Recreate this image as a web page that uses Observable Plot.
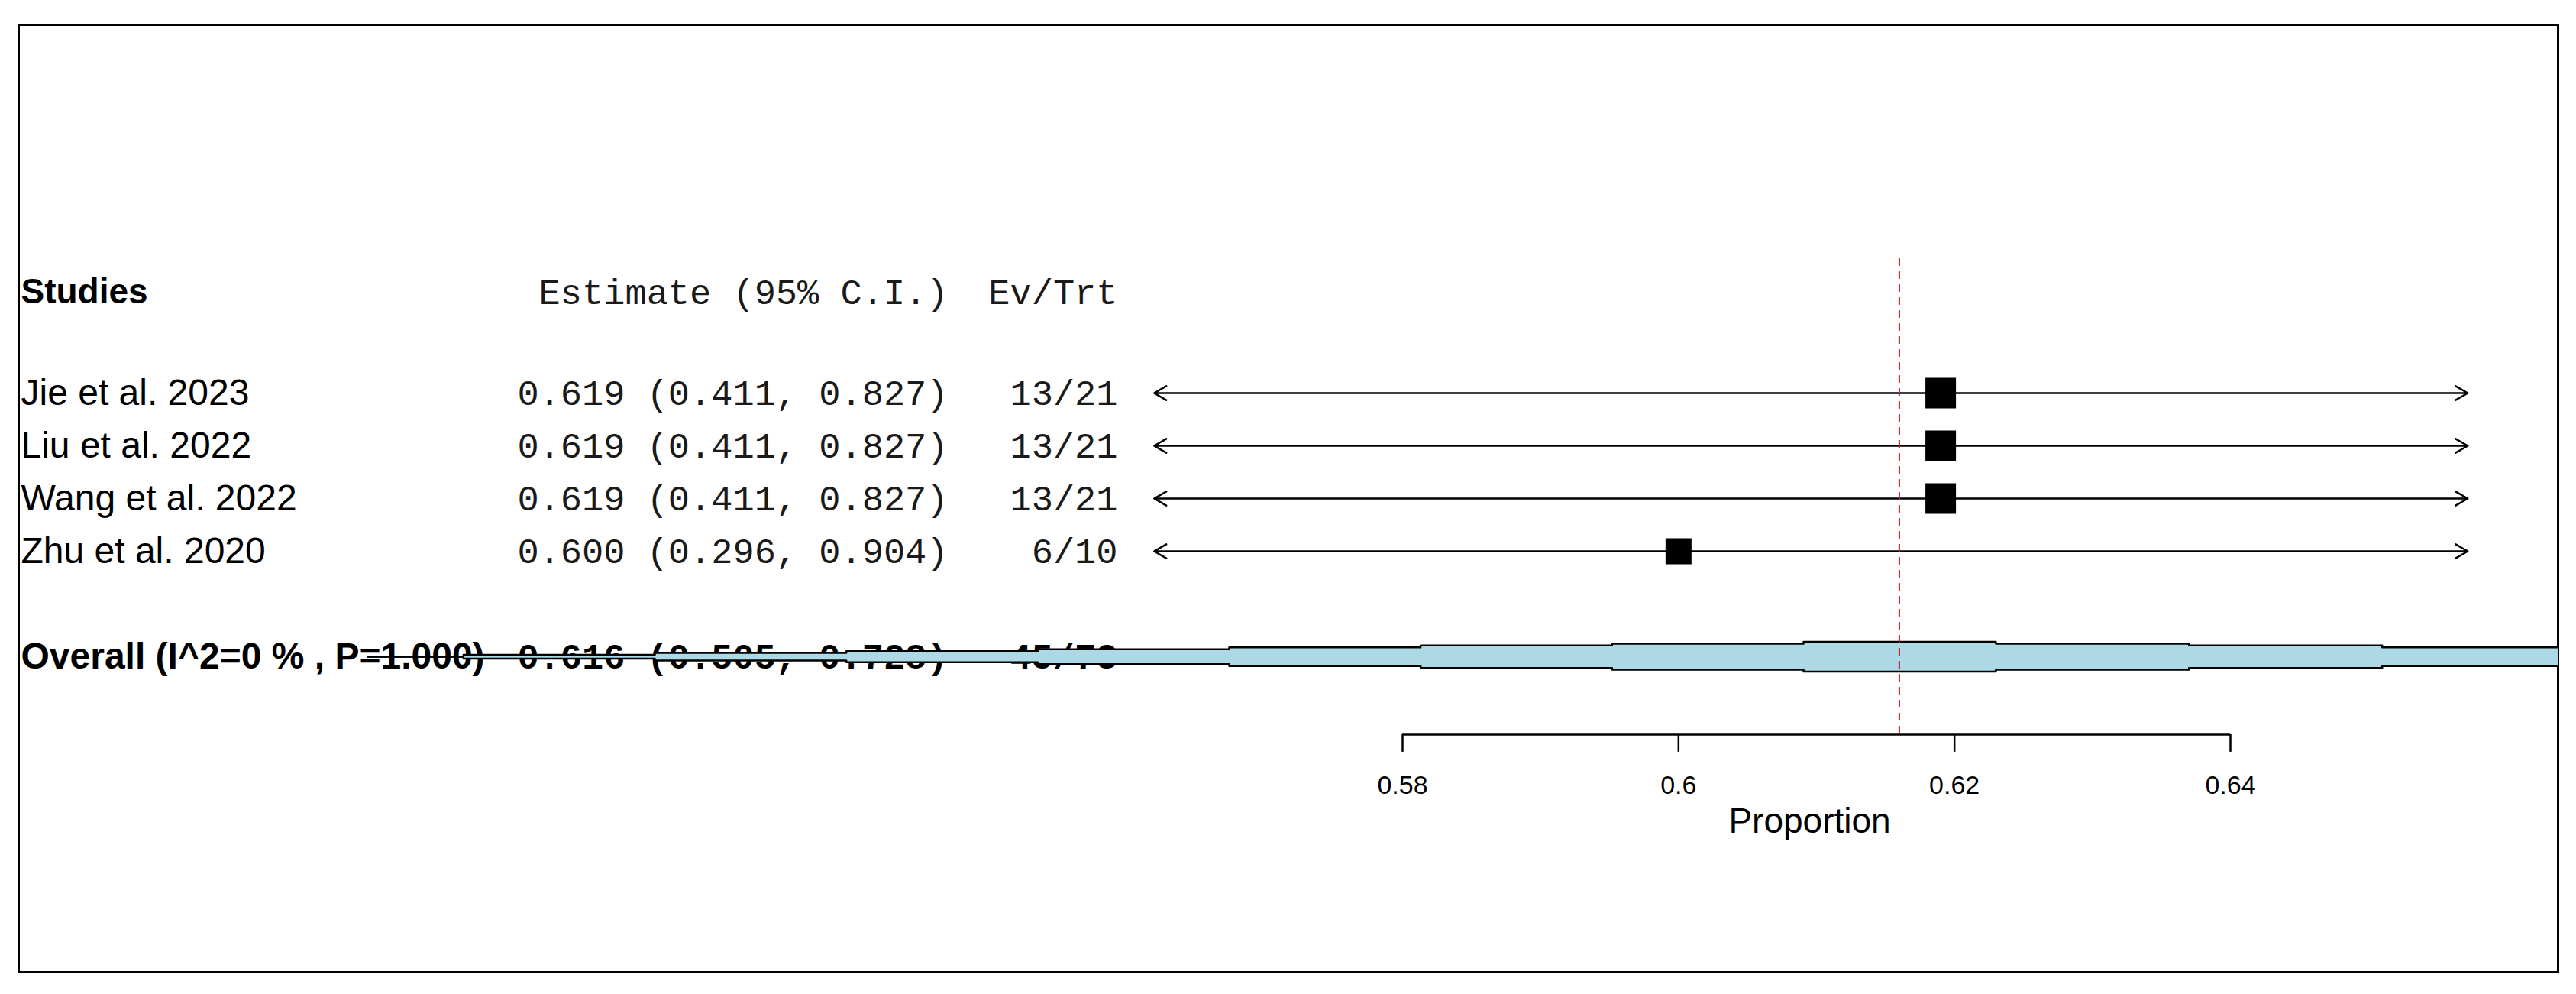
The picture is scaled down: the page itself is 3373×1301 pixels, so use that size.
<!DOCTYPE html>
<html>
<head>
<meta charset="utf-8">
<script src="https://cdn.jsdelivr.net/npm/d3@7"></script>
<script src="https://cdn.jsdelivr.net/npm/@observablehq/plot@0.6"></script>
<style>
html, body { margin: 0; padding: 0; background: #fff; }
#chart svg { display: block; }
</style>
</head>
<body>
<div id="chart"></div>
<script>
// ---- data ----
const studies   = ["Jie et al. 2023", "Liu et al. 2022", "Wang et al. 2022", "Zhu et al. 2020"];
const estimates = [0.619, 0.619, 0.619, 0.600];
const lowers    = [0.411, 0.411, 0.411, 0.296];
const uppers    = [0.827, 0.827, 0.827, 0.904];
const events    = [13, 13, 13, 6];
const totals    = [21, 21, 21, 10];

const overallLabel  = "Overall (I^2=0 % , P=1.000)";
const overallValues = [0.616, 0.505, 0.728]; // estimate, lower, upper

const headerLabels = ["Studies", "Estimate (95% C.I.)", "Ev/Trt"];
const xTicks = [0.58, 0.6, 0.62, 0.64];
const xTickLabels = ["0.58", "0.6", "0.62", "0.64"];
const xLabel = "Proportion";
const plotRange = [0.562, 0.6572]; // x limits of the plotting region (CI lines clipped with arrows)

// ---- layout (row units) ----
const headerRow = 0.09, firstStudyRow = 2, overallRow = 7;
const axisRow = 8.478, tickEndRow = 8.81, lineTopRow = -0.55;
const sans = "Liberation Sans, Arial, sans-serif";
const mono = "Liberation Mono, Courier New, monospace";

const fmt = d3.format(".3f");
const rows = studies.map((s, i) => ({
  label: s, est: estimates[i], lo: lowers[i], hi: uppers[i],
  ev: events[i], n: totals[i], row: firstStudyRow + i
}));
const ciText = d => `${fmt(d.est)} (${fmt(d.lo)}, ${fmt(d.hi)})`;
const evText = d => `${d.ev}/${d.n}`;

const [oEst, oLo, oHi] = overallValues;
const overall = [{label: overallLabel, est: oEst, lo: oLo, hi: oHi,
  ev: d3.sum(events), n: d3.sum(totals), row: overallRow}];

// square side (px) by sample size
const side = d3.scaleLinear([d3.min(totals), d3.max(totals)], [34, 40]);

// stepped summary diamond (as rendered in the reference)
const N = 8, H = 0.283;
const steps = [{x: oLo, k: 0}];
for (let k = 0; k < N; k++) steps.push({x: oLo + (k + 0.5) / N * (oEst - oLo), k: k + 1});
for (let k = N - 1; k >= 0; k--) steps.push({x: oEst + (N - k - 0.5) / N * (oHi - oEst), k});
steps.push({x: oHi, k: 0});
const diamondTop = d => overallRow - d.k / N * H;
const diamondBot = d => overallRow + d.k / N * H;

const clippedLo = rows.filter(d => d.lo < plotRange[0]);
const clippedHi = rows.filter(d => d.hi > plotRange[1]);
const inLo = rows.filter(d => d.lo >= plotRange[0]);
const inHi = rows.filter(d => d.hi <= plotRange[1]);

const monoColor = "#1a1a1a";

const chart = Plot.plot({
  width: 3373,
  height: 1301,
  marginLeft: 24, marginRight: 24, marginTop: 32, marginBottom: 29,
  style: {background: "white", fontFamily: sans, color: "black"},
  x: {domain: d3.extent(xTicks), range: [1836, 2920], axis: null},
  y: {domain: [0, overallRow], range: [376, 859], axis: null},
  r: {type: "identity"},
  marks: [
    Plot.frame({stroke: "black", strokeWidth: 3}),
    // header
    Plot.text([headerLabels[0]], {frameAnchor: "left", y: () => headerRow, dx: 3, text: d => d,
      textAnchor: "start", fontSize: 46, fontWeight: "bold", fontFamily: sans}),
    Plot.text([headerLabels[1]], {frameAnchor: "left", y: () => headerRow, dx: 1217, text: d => d,
      textAnchor: "end", fontSize: 47, fontFamily: mono, fill: monoColor}),
    Plot.text([headerLabels[2]], {frameAnchor: "left", y: () => headerRow, dx: 1439, text: d => d,
      textAnchor: "end", fontSize: 47, fontFamily: mono, fill: monoColor}),
    // study rows
    Plot.text(rows, {frameAnchor: "left", y: "row", dx: 3, text: "label",
      textAnchor: "start", fontSize: 48, fontFamily: sans}),
    Plot.text(rows, {frameAnchor: "left", y: "row", dx: 1217, text: ciText,
      textAnchor: "end", fontSize: 47, fontFamily: mono, fill: monoColor}),
    Plot.text(rows, {frameAnchor: "left", y: "row", dx: 1439, text: evText,
      textAnchor: "end", fontSize: 47, fontFamily: mono, fill: monoColor}),
    // overall row text (under the diamond)
    Plot.text(overall, {frameAnchor: "left", y: "row", dx: 3, text: "label",
      textAnchor: "start", fontSize: 48, fontWeight: "bold", fontFamily: sans}),
    Plot.text(overall, {frameAnchor: "left", y: "row", dx: 1217, text: ciText,
      textAnchor: "end", fontSize: 47, fontWeight: "bold", fontFamily: mono}),
    Plot.text(overall, {frameAnchor: "left", y: "row", dx: 1439, text: evText,
      textAnchor: "end", fontSize: 47, fontWeight: "bold", fontFamily: mono}),
    // CI lines (arrows where they leave the plotting range)
    Plot.arrow(clippedLo, {x1: "est", x2: () => plotRange[0], y1: "row", y2: "row",
      stroke: "black", strokeWidth: 2.5, headLength: 11, headAngle: 60}),
    Plot.arrow(clippedHi, {x1: "est", x2: () => plotRange[1], y1: "row", y2: "row",
      stroke: "black", strokeWidth: 2.5, headLength: 11, headAngle: 60}),
    Plot.link(inLo, {x1: "est", x2: "lo", y1: "row", y2: "row", stroke: "black", strokeWidth: 2.5}),
    Plot.link(inHi, {x1: "est", x2: "hi", y1: "row", y2: "row", stroke: "black", strokeWidth: 2.5}),
    // squares
    Plot.dot(rows, {x: "est", y: "row", symbol: "square", r: d => side(d.n) / Math.sqrt(Math.PI),
      fill: "black", stroke: "none"}),
    // summary diamond
    Plot.areaY(steps, {x: "x", y1: diamondTop, y2: diamondBot, curve: "step-after", fill: "#ADD8E6", clip: true}),
    Plot.line(steps, {x: "x", y: diamondTop, curve: "step-after", stroke: "black", strokeWidth: 2.5, clip: true}),
    Plot.line(steps, {x: "x", y: diamondBot, curve: "step-after", stroke: "black", strokeWidth: 2.5, clip: true}),
    // summary reference line
    Plot.ruleX([oEst], {y1: lineTopRow, y2: axisRow, stroke: "#c02424", strokeWidth: 2, strokeDasharray: "10,7"}),
    // x axis (R style)
    Plot.ruleY([axisRow], {x1: () => d3.min(xTicks), x2: () => d3.max(xTicks), stroke: "black", strokeWidth: 2.5}),
    Plot.ruleX(xTicks, {x: d => d, y1: () => axisRow, y2: () => tickEndRow, stroke: "black", strokeWidth: 2.5}),
    Plot.text(xTicks, {x: d => d, y: () => axisRow, dy: 67, text: (d, i) => xTickLabels[i],
      fontSize: 34, fontFamily: sans}),
    Plot.text([xLabel], {x: () => d3.mean(d3.extent(xTicks)), y: () => axisRow, dx: -9, dy: 114, text: d => d,
      fontSize: 46, fontFamily: sans})
  ]
});
document.getElementById("chart").appendChild(chart);
</script>
</body>
</html>
